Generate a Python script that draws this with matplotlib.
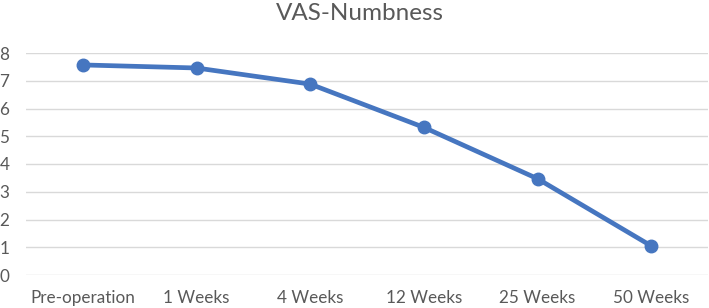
import matplotlib
matplotlib.use("Agg")
import matplotlib.pyplot as plt

categories = ["Pre-operation", "1 Weeks", "4 Weeks", "12 Weeks", "25 Weeks", "50 Weeks"]
values = [7.57, 7.46, 6.88, 5.32, 3.47, 1.05]
yticks = [0, 1, 2, 3, 4, 5, 6, 7, 8]

plt.rcParams['font.family'] = ['Lato', 'DejaVu Sans']

fig = plt.figure(figsize=(7.09, 3.08), dpi=100)
ax = fig.add_axes([26/709, 33/308, (708-26)/709, (275-53)/308])

x = list(range(len(categories)))
ax.plot(x, values, color="#4676C0", linewidth=3.4, marker="o", markersize=9,
        solid_capstyle="round", zorder=3)

ax.set_xlim(-0.5, len(categories) - 0.5)
ax.set_ylim(0, 8)
ax.set_yticks(yticks)
ax.set_yticklabels([str(v) for v in yticks])
ax.set_xticks(x)
ax.set_xticklabels(categories)
ax.grid(axis="y", color="#D9D9D9", linewidth=1)
ax.set_axisbelow(True)
for s in ax.spines.values():
    s.set_visible(False)
ax.tick_params(axis="both", length=0, labelsize=12.3, colors="#595959")
ax.tick_params(axis="y", pad=12)
ax.tick_params(axis="x", pad=11)

fig.text(359.5/709, 1 - 19.5/308, "VAS-Numbness", ha="center", va="baseline",
         fontsize=17.5, color="#595959")

fig.savefig("out.png", dpi=100)
